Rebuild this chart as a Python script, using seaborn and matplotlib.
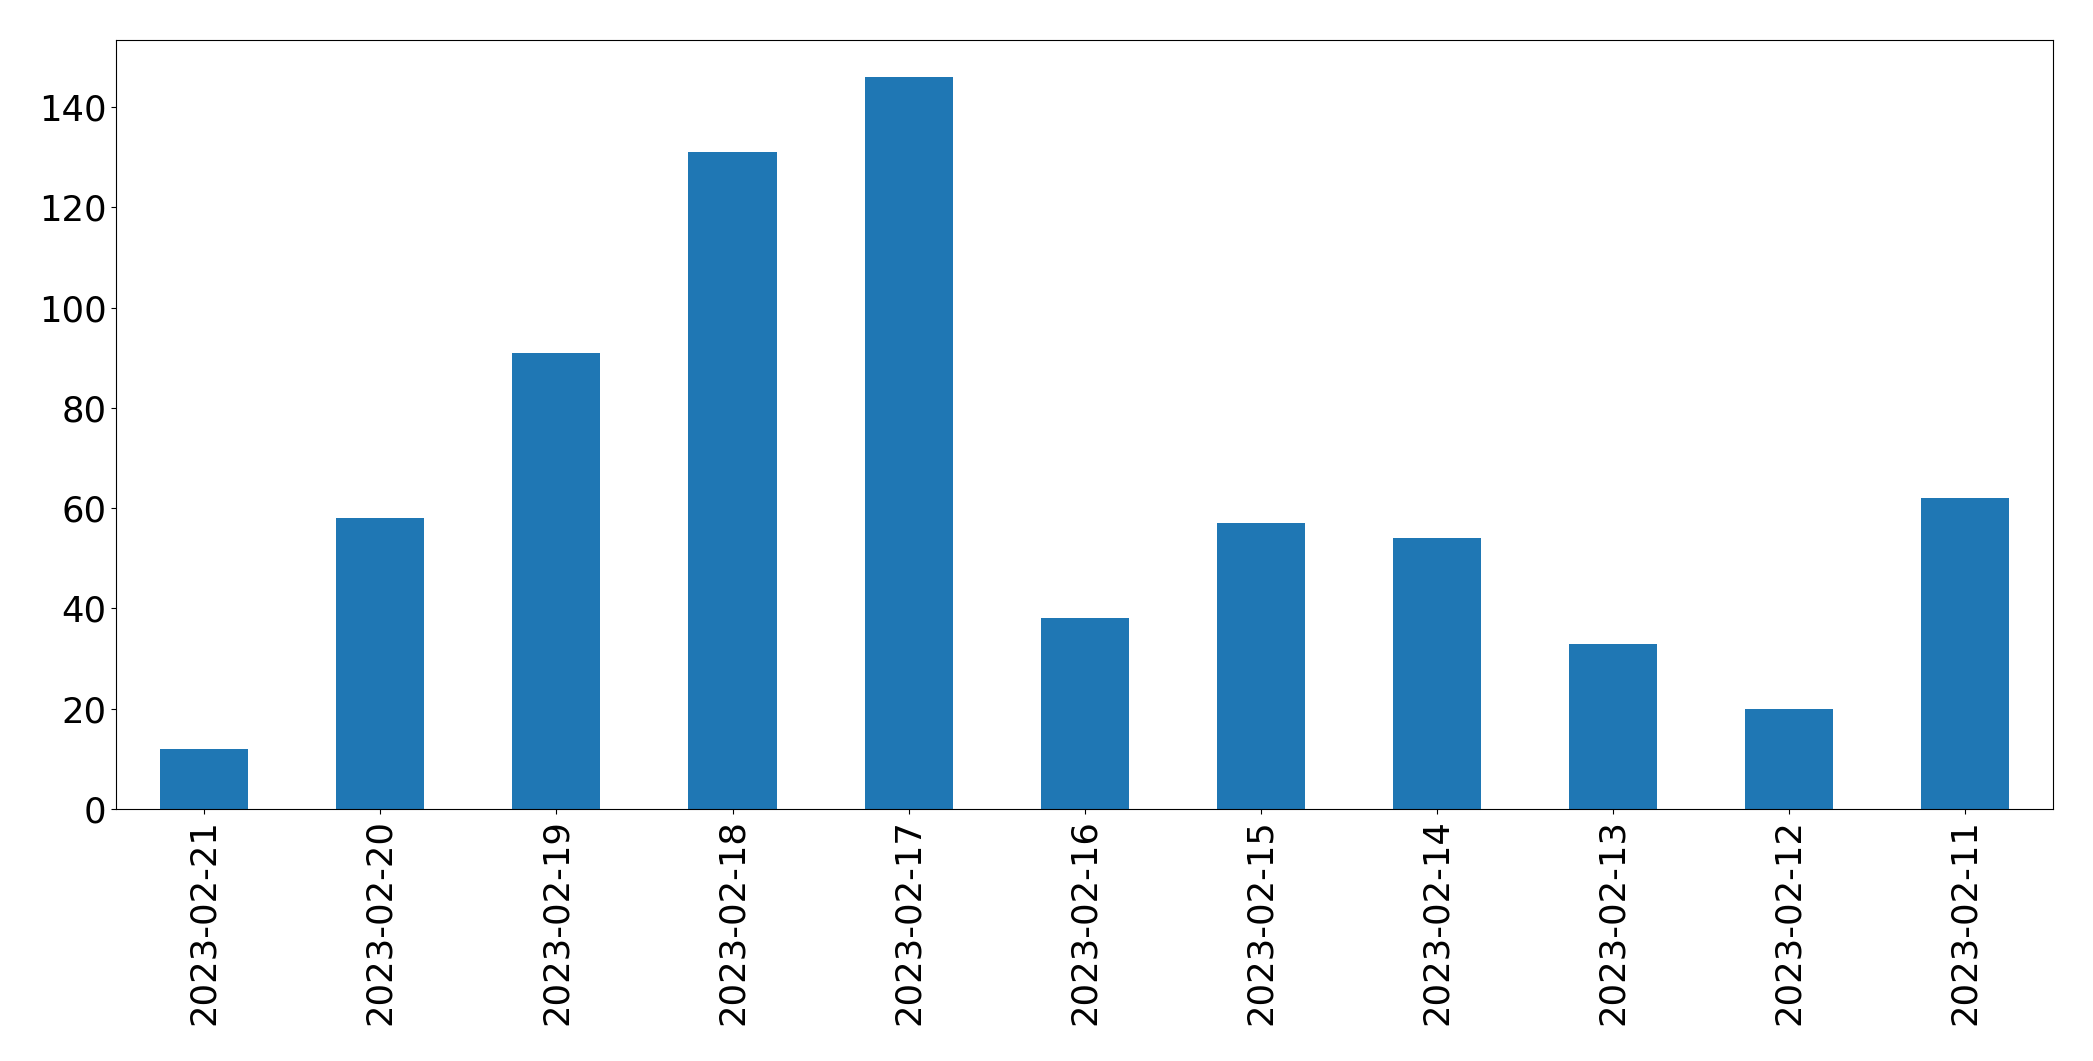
import matplotlib
matplotlib.use('Agg')
import matplotlib.pyplot as plt
import seaborn as sns
import pandas as pd

dates = ['2023-02-21', '2023-02-20', '2023-02-19', '2023-02-18', '2023-02-17', '2023-02-16',
         '2023-02-15', '2023-02-14', '2023-02-13', '2023-02-12', '2023-02-11']
counts = [12, 58, 91, 131, 146, 38, 57, 54, 33, 20, 62]

df = pd.DataFrame({'date': dates, 'count': counts})

fig, ax = plt.subplots(figsize=(20.93, 10.61), dpi=100)
sns.barplot(data=df, x='date', y='count', order=dates, color='#1f77b4',
            saturation=1, width=0.5, ax=ax)
ax.set_xlim(-0.5, len(dates) - 0.5)
ax.set_ylim(0, max(counts) * 1.05)
ax.set_xlabel('')
ax.set_ylabel('')
ax.tick_params(axis='both', labelsize=25.5, colors='black')
ax.tick_params(axis='x', labelrotation=90)
for s in ax.spines.values():
    s.set_edgecolor('black')

plt.subplots_adjust(left=0.0555, right=0.981, top=0.962, bottom=0.2375)
plt.savefig('out.png', dpi=100)
